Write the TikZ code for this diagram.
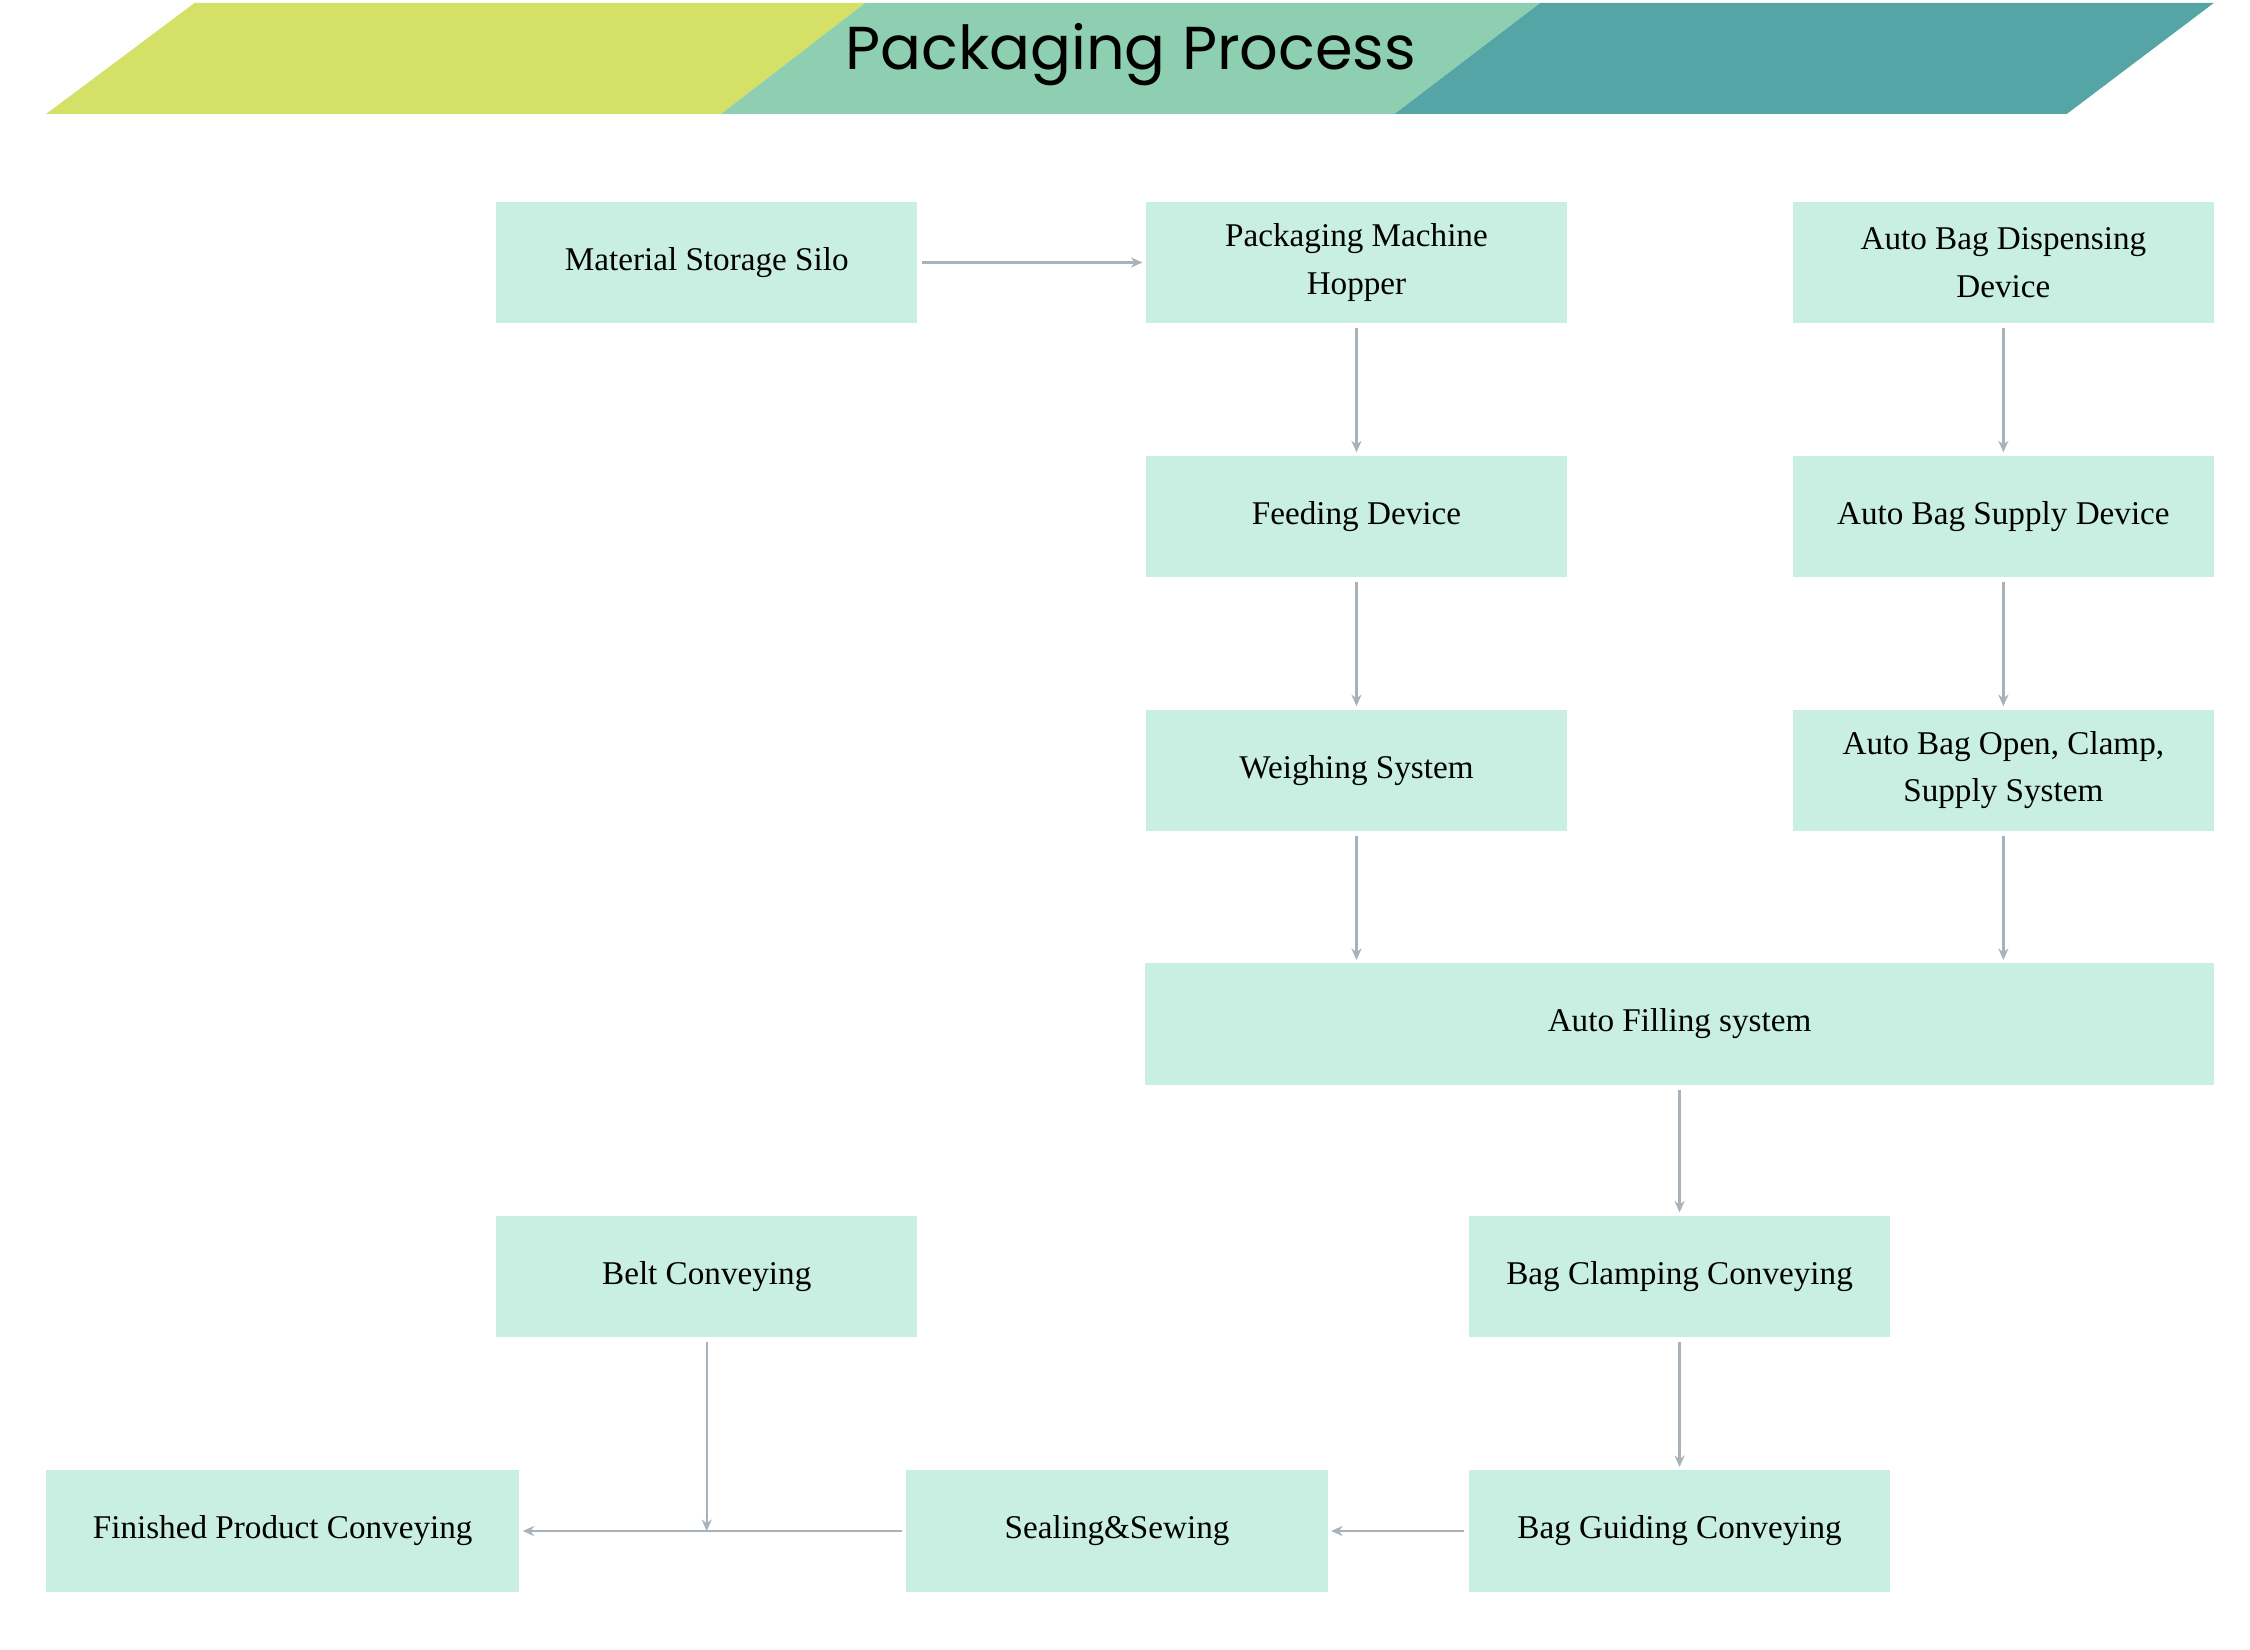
\documentclass[tikz,border=0pt]{standalone}
\usepackage{fontspec}
\setmainfont{Liberation Serif}
\newfontfamily\titlefont{Poppins}
\usetikzlibrary{arrows.meta}
\definecolor{bxfill}{HTML}{C8EFE1}
\definecolor{arr}{HTML}{A8B2BA}
\definecolor{bA}{HTML}{D4E066}
\definecolor{bB}{HTML}{8DCFB0}
\definecolor{bC}{HTML}{55A5A6}
\begin{document}
\begin{tikzpicture}[x=0.5pt,y=-0.5pt,
  box/.style={fill=bxfill,draw=none,minimum width=146pt,minimum height=42pt,align=center,inner sep=0pt,font=\fontsize{11.5}{16.5}\selectfont},
  conn/.style={draw=arr,line width=0.8pt,-{Stealth[length=4pt,width=3.5pt]},shorten <=1.5pt,shorten >=1pt}]
\useasboundingbox (0,0) rectangle (1560,1144);
\fill[bA] (32,79) -- (135,2) -- (600,2) -- (500,79) -- cycle;
\fill[bB] (500,79) -- (600,2) -- (1068,2) -- (967,79) -- cycle;
\fill[bC] (967,79) -- (1068,2) -- (1535,2) -- (1433,79) -- cycle;
\node[font=\titlefont\fontsize{21}{25}\selectfont] (title) at (784,38) {Packaging Process};
\node[box] (silo) at (490,182) {Material Storage Silo};
\node[box] (hop) at (940.5,182) {Packaging Machine\\Hopper};
\node[box] (disp) at (1389,182) {Auto Bag Dispensing\\Device};
\node[box] (feed) at (940.5,358) {Feeding Device};
\node[box] (sup) at (1389,358) {Auto Bag Supply Device};
\node[box] (weigh) at (940.5,534) {Weighing System};
\node[box] (open) at (1389,534) {Auto Bag Open, Clamp,\\Supply System};
\node[box,minimum width=370.5pt] (fill) at (1164.5,710) {Auto Filling system};
\node[box] (belt) at (490,885) {Belt Conveying};
\node[box] (clamp) at (1164.5,885) {Bag Clamping Conveying};
\node[box,minimum width=164pt] (fin) at (196,1061.5) {Finished Product Conveying};
\node[box] (seal) at (774.5,1061.5) {Sealing\&Sewing};
\node[box] (guide) at (1164.5,1061.5) {Bag Guiding Conveying};
\draw[conn] (silo) -- (hop);
\draw[conn] (hop) -- (feed);
\draw[conn] (feed) -- (weigh);
\draw[conn] (weigh.south) -- (weigh.south |- fill.north);
\draw[conn] (disp) -- (sup);
\draw[conn] (sup) -- (open);
\draw[conn] (open.south) -- (open.south |- fill.north);
\draw[conn] (fill) -- (clamp);
\draw[conn] (clamp) -- (guide);
\draw[conn] (guide) -- (seal);
\draw[conn] (seal) -- (fin);
\coordinate (join) at (belt.south |- seal.west);
\draw[conn,shorten >=0pt] (belt.south) -- (join);
\end{tikzpicture}
\end{document}
